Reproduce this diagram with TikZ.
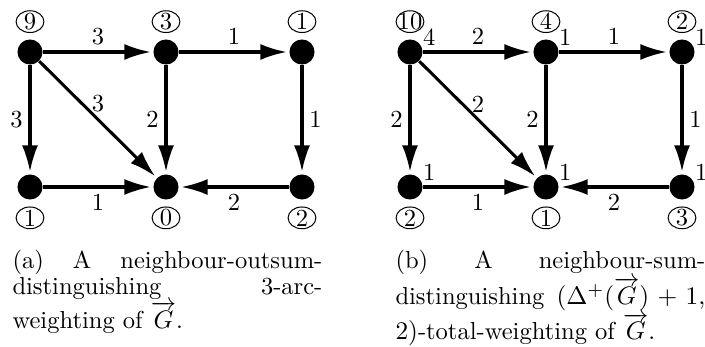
\documentclass[tikz,border=0pt]{standalone}
\usepackage{amsmath,amssymb}
\usetikzlibrary{arrows.meta,shapes.geometric}
\tikzset{
	vtx/.style={circle,fill,inner sep=0pt,minimum size=9.9pt},
	cnum/.style={ellipse,draw,thin,inner xsep=-1.5pt,inner ysep=-1pt,minimum width=11pt,minimum height=8.6pt},
	wt/.style={inner sep=0pt},
	arc/.style={line width=1.2pt,-{Latex[length=10.5pt,width=6.3pt]},shorten >=0.8pt},
	lbl/.style={inner sep=2.3pt},
	captext/.style={text width=122.5pt,align=justify,inner sep=0pt}
}

\begin{document}
\begin{tikzpicture}[x=0.3953pt,y=-0.3953pt,every node/.style={font=\fontsize{9.7}{9.9}\selectfont}]
	\useasboundingbox (0,0) rectangle (705,347);
	\foreach \g/\o in {1/0,2/380} {
		\node[vtx] (a\g) at (\o+30,52) {};
		\node[vtx] (b\g) at (\o+166,52) {};
		\node[vtx] (c\g) at (\o+302,52) {};
		\node[vtx] (d\g) at (\o+30,187) {};
		\node[vtx] (e\g) at (\o+166,187) {};
		\node[vtx] (f\g) at (\o+302,187) {};
	}
	\foreach \g/\ab/\bc/\ad/\ae/\be/\cf/\de/\fe in {1/3/1/3/3/2/1/1/2,2/2/1/2/2/2/1/1/2} {
		\draw[arc] (a\g) -- node[lbl,above] {\ab} (b\g);
		\draw[arc] (b\g) -- node[lbl,above] {\bc} (c\g);
		\draw[arc] (a\g) -- node[lbl,left] {\ad} (d\g);
		\draw[arc] (a\g) -- node[lbl,above] {\ae} (e\g);
		\draw[arc] (b\g) -- node[lbl,left] {\be} (e\g);
		\draw[arc] (c\g) -- node[lbl,right] {\cf} (f\g);
		\draw[arc] (d\g) -- node[lbl,below] {\de} (e\g);
		\draw[arc] (f\g) -- node[lbl,below] {\fe} (e\g);
	}
	\foreach \v/\t in {a1/9,b1/3,c1/1,a2/10,b2/4,c2/2} \node[cnum] (n\v) at ([yshift=12pt]\v) {\t};
	\foreach \v/\t in {d1/1,e1/0,f1/2,d2/2,e2/1,f2/3} \node[cnum] (n\v) at ([yshift=-12.2pt]\v) {\t};
	\foreach \v/\t in {a2/4,b2/1,c2/1,d2/1,e2/1,f2/1} \node[wt] (w\v) at ([shift={(7.6pt,5.9pt)}]\v) {\t};
	\node[captext,anchor=base west] (capa) at (12,269) {(a) A neighbour-outsum-\linebreak distinguishing 3-arc-\linebreak weighting of $\overrightarrow{G}$.};
	\node[captext,anchor=base west] (capb) at (395,269) {(b) A neighbour-sum-\linebreak distinguishing $(\Delta^+(\overrightarrow{G})+1,$\linebreak $2)$-total-weighting of $\overrightarrow{G}$.};
\end{tikzpicture}
\end{document}
